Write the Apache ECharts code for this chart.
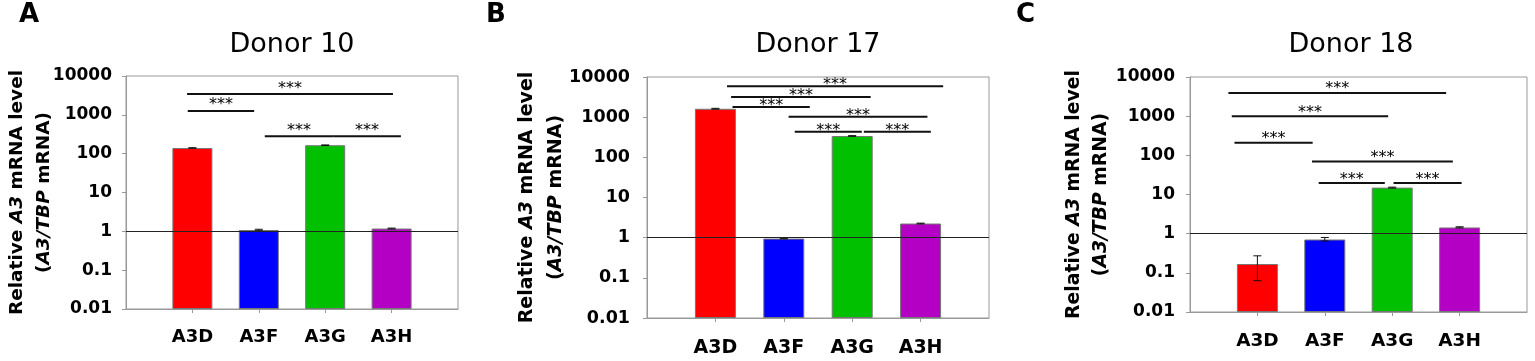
<!DOCTYPE html>
<html>
<head>
<meta charset="utf-8">
<script src="https://cdn.jsdelivr.net/npm/echarts@6/dist/echarts.min.js"></script>
<style>
  html, body { margin: 0; padding: 0; background: #fff; }
  #main { width: 1535px; height: 361px; }
</style>
</head>
<body>
<div id="main"></div>
<script>
// empty slot each side, the original plots A3D..A3H on positions 1..4 of 0..5
const categories = ['', 'A3D', 'A3F', 'A3G', 'A3H', ''];
const yTickLabels = ['0.01', '0.1', '1', '10', '100', '1000', '10000'];
const titles = ['Donor 10', 'Donor 17', 'Donor 18'];
const panelLetters = ['A', 'B', 'C'];

// relative A3 mRNA level (A3/TBP)
const donor10 = [140, 1.08, 165, 1.18];
const donor17 = [1620, 0.95, 340, 2.25];
const donor18 = [0.168, 0.71, 15, 1.44];

// error bar ranges
const donor10Low = [138, 1.03, 162, 1.15];
const donor10High = [142, 1.13, 168, 1.21];
const donor17Low = [1580, 0.93, 333, 2.2];
const donor17High = [1660, 0.97, 347, 2.3];
const donor18Low = [0.063, 0.65, 14.6, 1.4];
const donor18High = [0.272, 0.8, 15.4, 1.5];

// significance bars: [from, to, level], from/to on the 0..5 slot scale
const donor10Sig = [[0.92, 4.02, 3440], [0.93, 1.93, 1260], [2.09, 3.12, 281], [3.12, 4.14, 281]];
const donor17Sig = [[1.17, 4.33, 5870], [1.23, 3.27, 3190], [1.25, 2.38, 1800], [2.07, 4.10, 1017], [2.16, 3.14, 431], [3.17, 4.15, 431]];
const donor18Sig = [[0.57, 3.80, 3920], [0.62, 2.94, 1000], [0.66, 1.82, 210], [1.81, 3.90, 70], [1.91, 2.89, 19.6], [3.02, 4.03, 19.6]];

const barColors = ['#ff0000', '#0000ff', '#00c000', '#b400c4'];
const FONT = 'DejaVu Sans';

const panels = [
  { vals: donor10, low: donor10Low, high: donor10High, sig: donor10Sig,
    left: 126, top: 76, width: 332, height: 233, barWidth: 40,
    tickFont: 17, tickGap: 14, catFont: 18, catGap: 19.5, nameFont: 18.5, nameLH: 27, nameGap: 68,
    starGap: 5.6, titleX: 292, letterX: 19 },
  { vals: donor17, low: donor17Low, high: donor17High, sig: donor17Sig,
    left: 647, top: 77, width: 342, height: 241, barWidth: 41,
    tickFont: 17.5, tickGap: 17, catFont: 19, catGap: 20.4, nameFont: 19, nameLH: 29, nameGap: 76,
    starGap: 1, titleX: 818, letterX: 486 },
  { vals: donor18, low: donor18Low, high: donor18High, sig: donor18Sig,
    left: 1190, top: 77, width: 337, height: 235, barWidth: 41,
    tickFont: 17, tickGap: 15, catFont: 18.5, catGap: 19.8, nameFont: 18.8, nameLH: 27, nameGap: 75,
    starGap: 3.6, titleX: 1351, letterX: 1016 }
];

const myChart = echarts.init(document.getElementById('main'));

const grid = [], xAxis = [], yAxis = [], series = [], graphic = [];

panels.forEach((p, i) => {
  grid.push({
    left: p.left, top: p.top, width: p.width, height: p.height,
    show: true, borderColor: '#999', borderWidth: 1,
    outerBoundsMode: 'none', containLabel: false
  });

  // visible category axis
  xAxis.push({
    type: 'category', gridIndex: i, data: categories, boundaryGap: false,
    axisLine: { lineStyle: { color: '#999' } },
    axisTick: { length: 4, interval: (idx) => idx > 0 && idx < 5, lineStyle: { color: '#999' } },
    axisLabel: { interval: 0, margin: p.catGap, color: '#000', fontFamily: FONT, fontWeight: 'bold', fontSize: p.catFont },
    splitLine: { show: false }
  });
  // hidden 0..5 scale for the significance bars
  xAxis.push({ type: 'value', gridIndex: i, min: 0, max: 5, show: false });

  const nameStyle = { fontFamily: FONT, fontSize: p.nameFont, fontWeight: 'bold', color: '#000', lineHeight: p.nameLH };
  yAxis.push({
    type: 'log', logBase: 10, gridIndex: i, min: 0.01, max: 10000, startValue: 0.01, splitNumber: 6,
    axisLine: { show: true, lineStyle: { color: '#999' } },
    axisTick: { show: true, length: 4, lineStyle: { color: '#999' } },
    axisLabel: {
      margin: p.tickGap, color: '#000', fontFamily: FONT, fontWeight: 'bold', fontSize: p.tickFont,
      formatter: (v) => yTickLabels[Math.round(Math.log10(v)) + 2]
    },
    splitLine: { show: false },
    name: '{b|Relative }{i|A3}{b| mRNA level}\n{b|(}{i|A3/TBP}{b| mRNA)}',
    nameLocation: 'middle', nameRotate: 90, nameGap: p.nameGap, nameMoveOverlap: false,
    nameTextStyle: Object.assign({}, nameStyle, {
      rich: { b: nameStyle, i: Object.assign({}, nameStyle, { fontStyle: 'italic' }) }
    })
  });

  series.push({
    type: 'bar', xAxisIndex: i * 2, yAxisIndex: i, barWidth: p.barWidth,
    data: ['-'].concat(p.vals, ['-']),
    itemStyle: { color: (params) => barColors[params.dataIndex - 1], borderColor: '#777', borderWidth: 1 },
    markLine: {
      silent: true, symbol: ['none', 'none'], label: { show: false },
      lineStyle: { color: '#222', width: 1, type: 'solid' },
      data: [{ yAxis: 1 }]
    },
    z: 2
  });

  // error bars
  series.push({
    type: 'custom', xAxisIndex: i * 2, yAxisIndex: i,
    encode: { x: 0, y: [1, 2] },
    data: p.low.map((lo, k) => [k + 1, lo, p.high[k]]),
    renderItem: (params, api) => {
      const a = api.coord([api.value(0), api.value(1)]);
      const b = api.coord([api.value(0), api.value(2)]);
      const st = { stroke: '#111', lineWidth: 1 };
      return {
        type: 'group', children: [
          { type: 'line', shape: { x1: a[0], y1: a[1], x2: b[0], y2: b[1] }, style: st },
          { type: 'line', shape: { x1: a[0] - 4, y1: a[1], x2: a[0] + 4, y2: a[1] }, style: st },
          { type: 'line', shape: { x1: b[0] - 4, y1: b[1], x2: b[0] + 4, y2: b[1] }, style: st }
        ]
      };
    },
    z: 3
  });

  // significance bars with ***
  series.push({
    type: 'custom', xAxisIndex: i * 2 + 1, yAxisIndex: i,
    encode: { x: [0, 1], y: 2 },
    data: p.sig,
    renderItem: (params, api) => {
      const a = api.coord([api.value(0), api.value(2)]);
      const b = api.coord([api.value(1), api.value(2)]);
      return {
        type: 'group', children: [
          { type: 'line', shape: { x1: a[0], y1: a[1], x2: b[0], y2: b[1] }, style: { stroke: '#111', lineWidth: 2 } },
          { type: 'text', x: (a[0] + b[0]) / 2, y: a[1] - p.starGap,
            style: { text: '***', fill: '#000', fontFamily: FONT, fontSize: 16, align: 'center', verticalAlign: 'middle' } }
        ]
      };
    },
    z: 4
  });

  graphic.push({
    type: 'text', x: p.titleX, y: 44.5,
    style: { text: titles[i], fill: '#000', fontFamily: FONT, fontSize: 27, align: 'center', verticalAlign: 'middle' }
  });
  graphic.push({
    type: 'text', x: p.letterX, y: 15.2,
    style: { text: panelLetters[i], fill: '#000', fontFamily: FONT, fontSize: 26, fontWeight: 'bold', align: 'left', verticalAlign: 'middle' }
  });
});

myChart.setOption({
  animation: false,
  textStyle: { fontFamily: FONT },
  grid: grid,
  xAxis: xAxis,
  yAxis: yAxis,
  series: series,
  graphic: graphic
});

// resize with the window
let resizeObserver = new ResizeObserver(() => myChart?.resize());
resizeObserver.observe(document.getElementById('main'));
</script>
</body>
</html>
